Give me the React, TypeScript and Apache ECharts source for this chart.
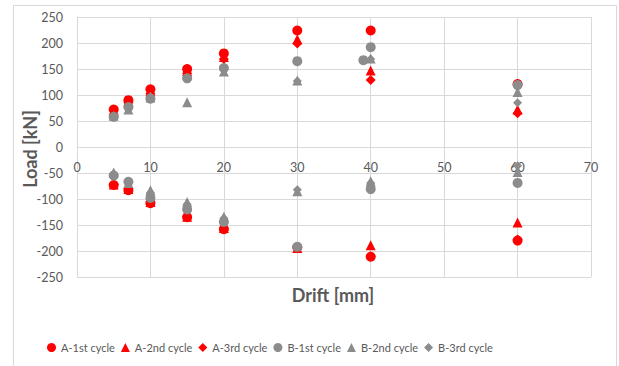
import React, { useEffect, useRef } from "react";
import * as echarts from "echarts";

const drift = [5, 7, 10, 15, 20, 30, 40, 60];
const a1Pos = [72, 90, 111, 150, 180, 224, 224, 121];
const a1Neg = [-73, -83, -108, -135, -158, -193, -211, -180];
const a2Pos = [67, 88, 107, 146, 173, 207, 147, 72];
const a2Neg = [-72, -81, -106, -134, -156, -194, -189, -145];
const a3Pos = [63, 85, 103, 142, 169, 199, 129, 65];
const a3Neg = [-72, -80, -105, -133, -156, -193, -210, -178];
const b1Pos = [58, 77, 93, 132, 152, 165, 192, 119];
const b1Neg = [-55, -67, -98, -120, -144, -192, -81, -69];
const b1ExtraDrift = [39];
const b1ExtraLoad = [167];
const b2Pos = [60, 72, 95, 86, 145, 128, 170, 106];
const b2Neg = [-49, -69, -83, -106, -134, -85, -66, -48];
const b3Pos = [58, 75, 97, 133, 148, 127, 169, 85];
const b3Neg = [-52, -68, -88, -110, -137, -82, -69, -36];

const seriesNames = ["A-1st cycle", "A-2nd cycle", "A-3rd cycle", "B-1st cycle", "B-2nd cycle", "B-3rd cycle"];
const yTicks = { min: -250, max: 250, interval: 50 };
const xTicks = { min: 0, max: 70, interval: 10 };

const RED = "#FF0000";
const GRAY = "#8C8C8C";
const FONT = "Lato, 'Liberation Sans', sans-serif";

function pts(pos: number[], neg: number[], exX: number[] = [], exY: number[] = []) {
  const out: number[][] = [];
  drift.forEach((d, i) => out.push([d, pos[i]]));
  drift.forEach((d, i) => out.push([d, neg[i]]));
  exX.forEach((d, i) => out.push([d, exY[i]]));
  return out;
}

export default function App() {
  const ref = useRef<HTMLDivElement>(null);
  useEffect(() => {
    if (!ref.current) return;
    const chart = echarts.init(ref.current, undefined, { renderer: "svg" });
    const defs = [
      { data: pts(a1Pos, a1Neg), symbol: "circle", color: RED, size: 10 },
      { data: pts(a2Pos, a2Neg), symbol: "triangle", color: RED, size: 10 },
      { data: pts(a3Pos, a3Neg), symbol: "diamond", color: RED, size: 10 },
      { data: pts(b1Pos, b1Neg, b1ExtraDrift, b1ExtraLoad), symbol: "circle", color: GRAY, size: 10 },
      { data: pts(b2Pos, b2Neg), symbol: "triangle", color: GRAY, size: 10 },
      { data: pts(b3Pos, b3Neg), symbol: "diamond", color: GRAY, size: 9 },
    ];
    chart.setOption({
      animation: false,
      backgroundColor: "#ffffff",
      grid: { left: 77, right: 28, top: 17, bottom: 89 },
      textStyle: { fontFamily: FONT },
      graphic: [
        {
          type: "rect",
          shape: { x: 13.5, y: 5.5, width: 603, height: 380 },
          style: { fill: "none", stroke: "#D9D9D9", lineWidth: 1 },
          silent: true,
        },
        {
          type: "text",
          x: 333,
          y: 295,
          style: {
            text: "Drift [mm]",
            font: `bold 18px ${FONT}`,
            fill: "#595959",
            textAlign: "center",
            textVerticalAlign: "middle",
          },
        },
        {
          type: "text",
          x: 30,
          y: 149,
          rotation: Math.PI / 2,
          style: {
            text: "Load [kN]",
            font: `bold 18px ${FONT}`,
            fill: "#595959",
            textAlign: "center",
            textVerticalAlign: "middle",
          },
        },
      ],
      legend: {
        left: 42,
        top: 337,
        itemWidth: 9,
        itemHeight: 9,
        itemGap: 6,
        textStyle: { color: "#595959", fontSize: 11, fontFamily: FONT },
        data: seriesNames,
      },
      xAxis: {
        type: "value",
        min: xTicks.min,
        max: xTicks.max,
        interval: xTicks.interval,
        position: "bottom",
        offset: -130,
        axisLine: { onZero: false, lineStyle: { color: "#D9D9D9" } },
        axisTick: { show: false },
        axisLabel: { color: "#595959", fontSize: 12.5, margin: 14 },
        splitLine: { show: true, lineStyle: { color: "#D9D9D9" } },
      },
      yAxis: {
        type: "value",
        min: yTicks.min,
        max: yTicks.max,
        interval: yTicks.interval,
        axisLine: { show: true, onZero: false, lineStyle: { color: "#D9D9D9" } },
        axisTick: { show: false },
        axisLabel: { color: "#595959", fontSize: 12.5, margin: 14 },
        splitLine: { show: true, lineStyle: { color: "#D9D9D9" } },
      },
      series: defs.map((d, i) => ({
        name: seriesNames[i],
        type: "scatter",
        symbol: d.symbol,
        symbolSize: d.size,
        itemStyle: { color: d.color, opacity: 1 },
        data: d.data,
      })),
    });
    return () => chart.dispose();
  }, []);
  return (
    <div
      ref={ref}
      style={{ position: "fixed", left: 0, top: 0, width: 619, height: 366, background: "#fff" }}
    />
  );
}
